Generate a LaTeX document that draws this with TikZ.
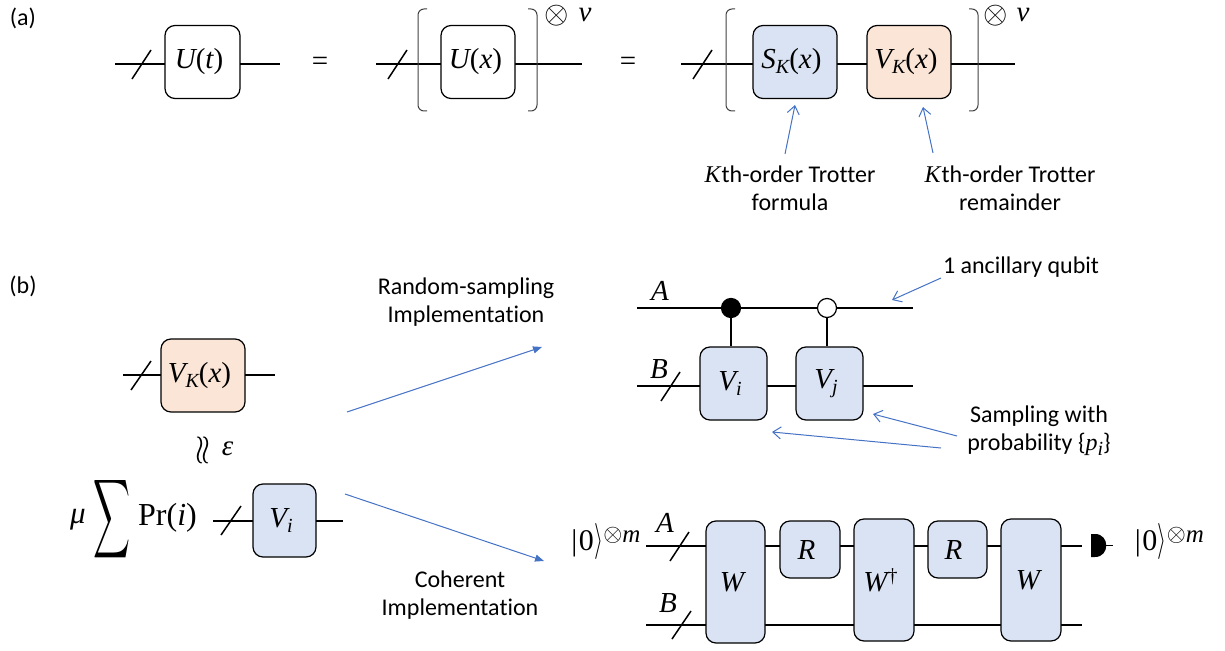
\documentclass[tikz,border=0pt]{standalone}
\usepackage{fontspec}
\usepackage{graphicx}
\setmainfont[Ligatures=NoCommon]{Carlito}
\newfontfamily\mf{Liberation Serif}
\usetikzlibrary{backgrounds,arrows.meta}
\definecolor{gblue}{HTML}{DAE3F3}
\definecolor{gorange}{HTML}{FBE5D6}
\definecolor{aline}{HTML}{4472C4}
\newcommand{\mi}[1]{{\mf\itshape #1}}
\newcommand{\up}[1]{{\mf #1}}
\newcommand{\subs}[1]{\raisebox{-5pt}{\fontsize{20}{22}\selectfont\mf\itshape #1}}
\newcommand{\ketz}{{\fontsize{30}{32}\selectfont\mf |\kern1.5pt0}\kern0.5pt\resizebox{9pt}{27pt}{$\rangle$}\raisebox{9pt}{\resizebox{19pt}{!}{$\otimes$}}\raisebox{8pt}{\fontsize{25}{27}\selectfont\mf\itshape m}}
\tikzset{
  gatebox/.style={draw=black,line width=1.2pt,rounded corners=10pt,inner sep=0pt,font=\fontsize{29}{33}\selectfont},
  plaingate/.style={gatebox,fill=white},
  bluegate/.style={gatebox,fill=gblue},
  orangegate/.style={gatebox,fill=gorange},
  wire/.style={line width=1.8pt,black},
  slashline/.style={line width=1.5pt,black},
  bracket/.style={line width=1pt,black!75,rounded corners=6pt},
  callout/.style={line width=1pt,aline,-{Straight Barb[length=8pt,width=12pt,line width=1pt]}},
  bigarrow/.style={line width=1pt,aline,-{Triangle[length=9pt,width=7pt]}},
  lbl/.style={inner sep=0pt,font=\fontsize{24}{27}\selectfont,align=center},
  mlbl/.style={inner sep=0pt,font=\fontsize{29}{33}\selectfont},
  otimesnode/.style={inner sep=0pt},
  dotctl/.style={circle,draw=black,line width=1.2pt,inner sep=0pt,minimum size=19pt}
}
\begin{document}
\begin{tikzpicture}[x=1pt,y=-1pt]
\useasboundingbox (0,0) rectangle (1225,650);
% ---------- labels
\node[lbl] (la) at (23,18) {(a)};
\node[lbl] (lb) at (23,286) {(b)};
% ---------- (a) first
\node[plaingate,minimum width=75pt,minimum height=73pt] (U1) at (202.5,62) {\mi{U}\up{(}\mi{t}\up{)}\kern7pt};
\coordinate (U1L) at (115,64); \coordinate (U1R) at (280,64);
\coordinate (U1Ra) at (240,64); \coordinate (U1La) at (165,64);
\draw[wire] (U1L) -- (U1La); \draw[wire] (U1Ra) -- (U1R);
\draw[slashline] (132,79) -- (151,50);
\node[mlbl] (eq1) at (320,64) {\up{=}};
% ---------- (a) second
\begin{scope}[on background layer]
\coordinate (U2L) at (376,64); \coordinate (U2R) at (582,64);
\draw[wire] (U2L) -- (U2R);
\end{scope}
\node[plaingate,minimum width=74pt,minimum height=73pt] (U2) at (478,62) {\mi{U}\up{(}\mi{x}\up{)}\kern5pt};
\draw[slashline] (388,79) -- (407,50);
\draw[bracket] (427,9) -- (418,9) -- (418,111) -- (427,111);
\draw[bracket] (528,9) -- (537,9) -- (537,111) -- (528,111);
\node[otimesnode] (pow1) at (556.5,16) {\resizebox{24.4pt}{!}{$\otimes$}};
\node[mlbl] (nu1) at (585,15) {\mi{ν}};
\node[mlbl] (eq2) at (628,64) {\up{=}};
% ---------- (a) third
\begin{scope}[on background layer]
\coordinate (S3L) at (681,64); \coordinate (S3R) at (1015,64);
\draw[wire] (S3L) -- (S3R);
\end{scope}
\node[bluegate,minimum width=84pt,minimum height=73pt] (SK) at (795,62) {\mi{S}\subs{K}\up{(}\mi{x}\up{)}\kern7pt};
\node[orangegate,minimum width=84pt,minimum height=73pt] (VK) at (909,62) {\mi{V}\subs{K}\up{(}\mi{x}\up{)}\kern6pt};
\draw[slashline] (693,79) -- (712,50);
\draw[bracket] (735,9) -- (726,9) -- (726,111) -- (735,111);
\draw[bracket] (969,9) -- (978,9) -- (978,111) -- (969,111);
\node[otimesnode] (pow2) at (996,16) {\resizebox{24.4pt}{!}{$\otimes$}};
\node[mlbl] (nu2) at (1023,15) {\mi{ν}};
\node[lbl] (tf) at (790,188) {\mi{K}\kern1pt th-order Trotter\\[1pt]formula};
\node[lbl] (tr) at (1010,188) {\mi{K}\kern1pt th-order Trotter\\[1pt]remainder};
\coordinate (tfa) at (785,154); \coordinate (tra) at (933,153);
\coordinate (sfa) at (795,105); \coordinate (vfa) at (923,107);
\draw[callout] (tfa) -- (sfa);
\draw[callout] (tra) -- (vfa);
% ---------- (b) left
\node[orangegate,minimum width=84pt,minimum height=73pt] (VK2) at (203,375.5) {\mi{V}\subs{K}\up{(}\mi{x}\up{)}\kern7pt};
\coordinate (V2L) at (123,375); \coordinate (V2R) at (275,375);
\coordinate (V2La) at (161,375); \coordinate (V2Ra) at (245,375);
\draw[wire] (V2L) -- (V2La); \draw[wire] (V2Ra) -- (V2R);
\draw[slashline] (131,390) -- (151,361);
\node[inner sep=0pt] (apx) at (203,450) {\resizebox{9pt}{28pt}{$\wr$}\kern-2.5pt\resizebox{9pt}{28pt}{$\wr$}};
\node[mlbl] (eps) at (227.5,449) {\mi{ε}};
\node[mlbl] (mu) at (78,520) {\fontsize{31}{33}\selectfont\mi{μ}};
\node[inner sep=0pt] (sum) at (112,519) {\resizebox{37pt}{58pt}{$\displaystyle\sum$}};
\node[mlbl,anchor=west] (pr) at (138,518) {\fontsize{32}{34}\selectfont\up{Pr(}\mi{i}\up{)}};
\node[bluegate,minimum width=63pt,minimum height=73pt] (Vi0) at (284.5,520.5) {\mi{V}\subs{i}\kern7pt};
\coordinate (V0L) at (213,521); \coordinate (V0R) at (343,521);
\coordinate (V0La) at (253,521); \coordinate (V0Ra) at (316,521);
\draw[wire] (V0L) -- (V0La); \draw[wire] (V0Ra) -- (V0R);
\draw[slashline] (221,535) -- (241,506);
% ---------- (b) centre
\node[lbl] (rs) at (466,302) {Random-sampling\\[1pt]Implementation};
\node[lbl] (co) at (460,595.5) {Coherent\\[1pt]Implementation};
\coordinate (a1s) at (347,412); \coordinate (a1e) at (542,347);
\coordinate (a2s) at (345,494); \coordinate (a2e) at (544,561);
\draw[bigarrow] (a1s) -- (a1e);
\draw[bigarrow] (a2s) -- (a2e);
% ---------- (b) top circuit
\coordinate (AL) at (637,308); \coordinate (AR) at (913,308);
\coordinate (BL) at (637,386); \coordinate (BR) at (913,386);
\node[bluegate,minimum width=67pt,minimum height=73pt] (Vi) at (733.5,383.5) {\mi{V}\subs{i}\kern7pt};
\node[bluegate,minimum width=67pt,minimum height=73pt] (Vj) at (829.5,383.5) {\mi{V}\subs{j}\kern7pt};
\node[dotctl,fill=black] (c1) at (731,308) {};
\node[dotctl,fill=white] (c2) at (827,308) {};
\begin{scope}[on background layer]
\draw[wire] (AL) -- (AR);
\draw[wire] (BL) -- (BR);
\draw[wire] (c1) -- (c1 |- Vi.north);
\draw[wire] (c2) -- (c2 |- Vj.north);
\end{scope}
\draw[slashline] (661,401) -- (680,372);
\node[mlbl] (A1) at (660,291) {\mi{A}};
\node[mlbl] (B1) at (659,369) {\mi{B}};
\node[lbl] (anc) at (1021,267) {1 ancillary qubit};
\node[lbl] (samp) at (1039,431) {Sampling with\\[1pt]probability \{\mi{p}\subs{i}\}};
\coordinate (ancs) at (941,278); \coordinate (ance) at (892,300);
\coordinate (s1s) at (957,436); \coordinate (s1e) at (873,414);
\coordinate (s2s) at (941,448); \coordinate (s2e) at (772,432);
\draw[callout] (ancs) -- (ance);
\draw[callout] (s1s) -- (s1e);
\draw[callout] (s2s) -- (s2e);
% ---------- (b) bottom circuit
\coordinate (A2L) at (646,546); \coordinate (A2R) at (1082,546);
\coordinate (B2L) at (646,625); \coordinate (B2R) at (1082,625);
\node[bluegate,minimum width=59pt,minimum height=122pt] (W1) at (735.5,582) {\mi{W}\kern7pt};
\node[bluegate,minimum width=60pt,minimum height=57pt] (R1) at (810,549.5) {\mi{R}\kern7pt};
\node[bluegate,minimum width=60pt,minimum height=122pt] (W2) at (884,580) {\mi{W}\raisebox{9pt}{\fontsize{20}{22}\selectfont\mf †}\kern7pt};
\node[bluegate,minimum width=59pt,minimum height=57pt] (R2) at (957.5,549.5) {\mi{R}\kern8pt};
\node[bluegate,minimum width=60pt,minimum height=122pt] (W3) at (1031,580) {\mi{W}\kern6pt};
\begin{scope}[on background layer]
\draw[wire] (A2L) -- (A2R);
\draw[wire] (B2L) -- (B2R);
\end{scope}
\draw[slashline] (670,561) -- (689,532);
\draw[slashline] (672,639) -- (691,611);
\node[mlbl] (A2) at (665,523) {\mi{A}};
\node[mlbl] (B2) at (668,603) {\mi{B}};
\node[mlbl] (k1) at (606,541) {\ketz};
\node[mlbl] (k2) at (1169.5,541) {\ketz};
\fill[black] (1091,534) -- (1095,534) .. controls (1110,534) and (1110,557) .. (1095,557) -- (1091,557) -- cycle;
\coordinate (mL) at (1104,545.5); \coordinate (mR) at (1113,545.5);
\draw[line width=1.4pt] (mL) -- (mR);
\end{tikzpicture}
\end{document}
